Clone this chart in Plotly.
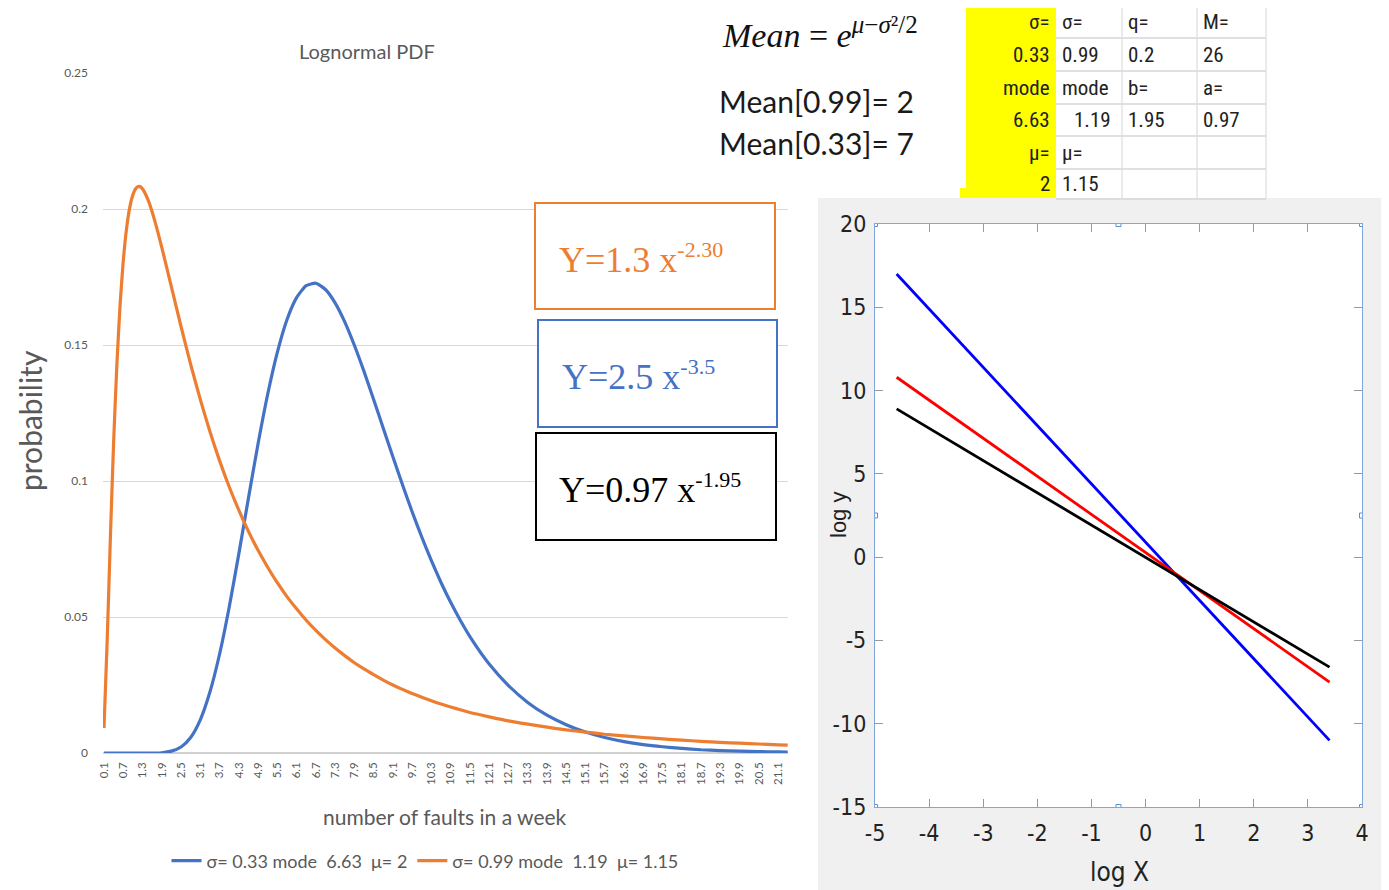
import plotly.graph_objects as go

# ---------------- data ----------------
x_faults = [0.1, 0.2, 0.3, 0.4, 0.5, 0.6, 0.7, 0.8, 0.9, 1.0, 1.1, 1.2, 1.3, 1.5, 1.7, 1.9,
            2.2, 2.5, 2.8, 3.1, 3.4, 3.7, 4.0, 4.3, 4.6, 4.9, 5.2, 5.5, 5.8, 6.1, 6.4, 6.7,
            7.0, 7.3, 7.6, 7.9, 8.2, 8.5, 8.8, 9.1, 9.4, 9.7, 10.0, 10.3, 10.6, 10.9, 11.2,
            11.5, 12.1, 12.7, 13.3, 13.9, 14.5, 15.1, 15.7, 16.3, 16.9, 17.5, 18.1, 18.7,
            19.3, 19.9, 20.5, 21.1, 21.4]

prob_sigma033 = [0.0, 0.0, 0.0, 0.0, 0.0, 0.0, 0.0, 0.0, 0.0, 0.0, 0.0, 0.0, 0.0, 0.0, 0.0, 0.0001,
                 0.0007, 0.0022, 0.0057, 0.0122, 0.0224, 0.0363, 0.0536, 0.0732, 0.0937, 0.1137,
                 0.1319, 0.1473, 0.1593, 0.1674, 0.1718, 0.1727, 0.1704, 0.1655, 0.1585, 0.1499,
                 0.1403, 0.1300, 0.1194, 0.1089, 0.0986, 0.0887, 0.0794, 0.0707, 0.0627, 0.0554,
                 0.0488, 0.0428, 0.0327, 0.0248, 0.0186, 0.0139, 0.0104, 0.0077, 0.0057, 0.0042,
                 0.0031, 0.0023, 0.0017, 0.0012, 0.0009, 0.0007, 0.0005, 0.0004, 0.0003]

prob_sigma099 = [0.0092, 0.0414, 0.0795, 0.1141, 0.1424, 0.1645, 0.1808, 0.1925, 0.2004, 0.2052,
                 0.2077, 0.2083, 0.2074, 0.2025, 0.1949, 0.1859, 0.1714, 0.1568, 0.1429, 0.1300,
                 0.1182, 0.1075, 0.0979, 0.0893, 0.0815, 0.0745, 0.0683, 0.0626, 0.0575, 0.0530,
                 0.0488, 0.0451, 0.0417, 0.0386, 0.0358, 0.0332, 0.0309, 0.0288, 0.0268, 0.0250,
                 0.0234, 0.0219, 0.0205, 0.0192, 0.0180, 0.0169, 0.0159, 0.0149, 0.0133, 0.0118,
                 0.0106, 0.0095, 0.0085, 0.0077, 0.0069, 0.0063, 0.0057, 0.0052, 0.0047, 0.0043,
                 0.0039, 0.0036, 0.0033, 0.0030, 0.0029]

series_names = ["σ= 0.33 mode\u00a0\u00a06.63\u00a0\u00a0μ= 2",
                "σ= 0.99 mode\u00a0\u00a01.19\u00a0\u00a0μ= 1.15"]

x_tick_labels = ["0.1", "0.7", "1.3", "1.9", "2.5", "3.1", "3.7", "4.3", "4.9", "5.5", "6.1",
                 "6.7", "7.3", "7.9", "8.5", "9.1", "9.7", "10.3", "10.9", "11.5", "12.1",
                 "12.7", "13.3", "13.9", "14.5", "15.1", "15.7", "16.3", "16.9", "17.5",
                 "18.1", "18.7", "19.3", "19.9", "20.5", "21.1"]
y_tick_vals = [0, 0.05, 0.1, 0.15, 0.2, 0.25]
y_tick_labels = ["0", "0.05", "0.1", "0.15", "0.2", "0.25"]

# log-log panel
log_x = [-4.6, 3.4]
log_y_blue = [17.0, -11.0]
log_y_red = [10.8, -7.5]
log_y_black = [8.9, -6.6]
log_x_ticks = [-5, -4, -3, -2, -1, 0, 1, 2, 3, 4]
log_y_ticks = [-15, -10, -5, 0, 5, 10, 15, 20]

# power-law labels: base text and exponent
power_bases = ["Y=1.3 x", "Y=2.5 x", "Y=0.97 x"]
power_exps = ["-2.30", "-3.5", "-1.95"]

# spreadsheet table
tbl_col1 = ["σ=", "0.33", "mode", "6.63", "μ=", "2"]
tbl_col2 = ["σ=", "0.99", "mode", "1.19", "μ=", "1.15"]
tbl_col3 = ["q=", "0.2", "b=", "1.95", "", ""]
tbl_col4 = ["M=", "26", "a=", "0.97", "", ""]
mean_lines = ["Mean[0.99]= 2", "Mean[0.33]= 7"]

# ---------------- layout helpers ----------------
W, H = 1389, 890
OFF = 8  # page body margin offset


def px(x):
    return (x - OFF) / W


def py(y):
    return 1 - (y - OFF) / H


GRAY = "#595959"
SANS = "Lato, 'Open Sans', sans-serif"
NARROW = "'Liberation Sans Narrow', 'Roboto Condensed', Roboto, 'Liberation Sans', sans-serif"
COND = "'DejaVu Sans Condensed', 'Liberation Sans Narrow', Roboto, sans-serif"
SERIF = "'Liberation Serif', 'DejaVu Serif', serif"
BLUE = "#4472C4"
ORANGE = "#ED7D31"

fig = go.Figure()

fig.add_trace(go.Scatter(x=x_faults, y=prob_sigma033, mode="lines", name=series_names[0],
                         line=dict(color=BLUE, width=3.2, shape="spline", smoothing=0.6),
                         xaxis="x", yaxis="y"))
fig.add_trace(go.Scatter(x=x_faults, y=prob_sigma099, mode="lines", name=series_names[1],
                         line=dict(color=ORANGE, width=3.2, shape="spline", smoothing=0.6),
                         xaxis="x", yaxis="y"))

fig.add_trace(go.Scatter(x=log_x, y=log_y_blue, mode="lines", line=dict(color="#0000FF", width=2.8),
                         showlegend=False, xaxis="x2", yaxis="y2"))
fig.add_trace(go.Scatter(x=log_x, y=log_y_red, mode="lines", line=dict(color="#FF0000", width=2.8),
                         showlegend=False, xaxis="x2", yaxis="y2"))
fig.add_trace(go.Scatter(x=log_x, y=log_y_black, mode="lines", line=dict(color="#000000", width=2.8),
                         showlegend=False, xaxis="x2", yaxis="y2"))

shapes = []
# gray background for right panel
shapes.append(dict(type="rect", xref="paper", yref="paper", x0=px(818), x1=1, y0=0, y1=py(198),
                   fillcolor="#f0f0f0", line=dict(width=0), layer="below"))
shapes.append(dict(type="rect", xref="paper", yref="paper", x0=px(875), x1=px(1362), y0=py(807), y1=py(224),
                   fillcolor="white", line=dict(width=0), layer="below"))
# mask over top-right of left chart
shapes.append(dict(type="rect", xref="paper", yref="paper", x0=px(681), x1=1, y0=py(198), y1=1,
                   fillcolor="white", line=dict(width=0), layer="above"))
# yellow column
shapes.append(dict(type="rect", xref="paper", yref="paper", x0=px(966), x1=px(1056), y0=py(198), y1=py(5),
                   fillcolor="#FFFF00", line=dict(width=0), layer="above"))
shapes.append(dict(type="rect", xref="paper", yref="paper", x0=px(960), x1=px(966), y0=py(198), y1=py(188),
                   fillcolor="#FFFF00", line=dict(width=0), layer="above"))
# table grid lines
for yy in [5, 38, 71, 104, 136, 169, 199]:
    shapes.append(dict(type="line", xref="paper", yref="paper", x0=px(1056), x1=px(1266), y0=py(yy), y1=py(yy),
                       line=dict(color="#d6d6d6", width=1.5), layer="above"))
for xx in [1122, 1197, 1266]:
    shapes.append(dict(type="line", xref="paper", yref="paper", x0=px(xx), x1=px(xx), y0=py(199), y1=py(5),
                       line=dict(color="#dcdcdc", width=1.2), layer="above"))

# power-law boxes
boxes = [(535, 203, 775, 309, ORANGE), (538, 320, 777, 427, BLUE), (536, 433, 776, 540, "#000000")]
for (x0, y0, x1, y1, c) in boxes:
    shapes.append(dict(type="rect", xref="paper", yref="paper", x0=px(x0), x1=px(x1), y0=py(y1), y1=py(y0),
                       fillcolor="white", line=dict(color=c, width=2), layer="above"))

# selection handles on right plot
for hx in [-5, -0.5, 4]:
    for hy in [20, 2.5, -15]:
        if hx == -0.5 and hy == 2.5:
            continue
        shapes.append(dict(type="rect", xref="x2", yref="y2", xsizemode="pixel", ysizemode="pixel",
                           xanchor=hx, yanchor=hy, x0=-2.5, x1=2.5, y0=-2.5, y1=2.5,
                           fillcolor="white", line=dict(color="#5b8fd0", width=1), layer="above"))

annotations = []


def ann(text, x, y, xanchor="center", yanchor="middle", **kw):
    annotations.append(dict(text=text, x=px(x), y=py(y), xref="paper", yref="paper",
                            xanchor=xanchor, yanchor=yanchor, showarrow=False, **kw))


# left chart titles
ann("Lognormal PDF", 367, 51, font=dict(family=SANS, size=20, color=GRAY))
ann("number of faults in a week", 445, 816, font=dict(family=SANS, size=21, color=GRAY))
ann("probability", 30, 421, textangle=-90, borderpad=0, font=dict(family=SANS, size=30, color=GRAY))
# power-law texts
pl_pos = [(557, 258, ORANGE), (560, 375, BLUE), (557, 488, "#000000")]
for base, ex, (tx, ty, c) in zip(power_bases, power_exps, pl_pos):
    ann(f"{base}<sup><span style='font-size:22px'>{ex}</span></sup>", tx, ty, xanchor="left",
        font=dict(family=SERIF, size=36, color=c))
# formula and means
ann("<i>Mean</i> = <i>e</i><sup><span style='font-size:25px'><i>μ</i>−<i>σ</i>²/2</span></sup>",
    720, 33, xanchor="left", font=dict(family=SERIF, size=34, color="#111111"))
for i, t in enumerate(mean_lines):
    ann(t, 717, 101 + 42 * i, xanchor="left", font=dict(family=SANS, size=30, color="#1a1a1a"))
# table
row_y = [22, 55, 88, 120, 153, 184]
tbl_font = dict(family=NARROW, size=21, color="#222222")
for i, y in enumerate(row_y):
    ann(tbl_col1[i], 1052, y, xanchor="right", font=tbl_font)
    if tbl_col2[i] == "1.19":
        ann(tbl_col2[i], 1113, y, xanchor="right", font=tbl_font)
    else:
        ann(tbl_col2[i], 1060, y, xanchor="left", font=tbl_font)
    if tbl_col3[i]:
        ann(tbl_col3[i], 1126, y, xanchor="left", font=tbl_font)
    if tbl_col4[i]:
        ann(tbl_col4[i], 1201, y, xanchor="left", font=tbl_font)
# right chart titles
ann("log X", 1119, 872, font=dict(family=COND, size=26, color="#222222"))
ann("log y", 838, 515, textangle=-90,
    font=dict(family="'Liberation Sans', Arial, sans-serif", size=22, color="#222222"))

fig.update_layout(
    width=W, height=H,
    margin=dict(l=0, r=0, t=0, b=0, pad=0, autoexpand=False),
    paper_bgcolor="white", plot_bgcolor="white",
    shapes=shapes, annotations=annotations,
    xaxis=dict(domain=[px(103), px(788)], range=[0.069, 21.41], anchor="y",
               tickmode="array", tickvals=[float(v) for v in x_tick_labels], ticktext=x_tick_labels,
               tickangle=-90, tickfont=dict(family=SANS, size=11.5, color=GRAY),
               showgrid=False, zeroline=False, showline=False, ticks="", ticklabelstandoff=6,
               automargin=False),
    yaxis=dict(domain=[py(753), py(73)], range=[0, 0.25], anchor="x",
               tickmode="array", tickvals=y_tick_vals, ticktext=y_tick_labels,
               tickfont=dict(family=SANS, size=12, color=GRAY),
               showgrid=True, gridcolor="#d9d9d9", gridwidth=1.2,
               zeroline=True, zerolinecolor="#d0d0d0", zerolinewidth=1.5,
               showline=False, ticks="", ticklabelstandoff=14, automargin=False),
    xaxis2=dict(domain=[px(875), px(1362)], range=[-5, 4], anchor="y2",
                tickmode="array", tickvals=log_x_ticks, ticktext=[str(v) for v in log_x_ticks],
                tickfont=dict(family=COND, size=23, color="#222222"),
                ticks="inside", ticklen=8, tickcolor="#9a9a9a", mirror="allticks",
                showline=True, linecolor="#7fa7d9", linewidth=1.2,
                showgrid=False, zeroline=False, ticklabelstandoff=5, automargin=False),
    yaxis2=dict(domain=[py(807), py(224)], range=[-15, 20], anchor="x2",
                tickmode="array", tickvals=log_y_ticks, ticktext=[str(v) for v in log_y_ticks],
                tickfont=dict(family=COND, size=23, color="#222222"),
                ticks="inside", ticklen=8, tickcolor="#9a9a9a", mirror="allticks",
                showline=True, linecolor="#7fa7d9", linewidth=1.2,
                showgrid=False, zeroline=False, ticklabelstandoff=3, automargin=False),
    legend=dict(orientation="h", x=px(425), xanchor="center", y=py(861), yanchor="middle",
                font=dict(family=SANS, size=18, color=GRAY), bgcolor="rgba(0,0,0,0)",
                itemwidth=30, tracegroupgap=0),
    showlegend=True,
)

fig.write_html("out.html")
